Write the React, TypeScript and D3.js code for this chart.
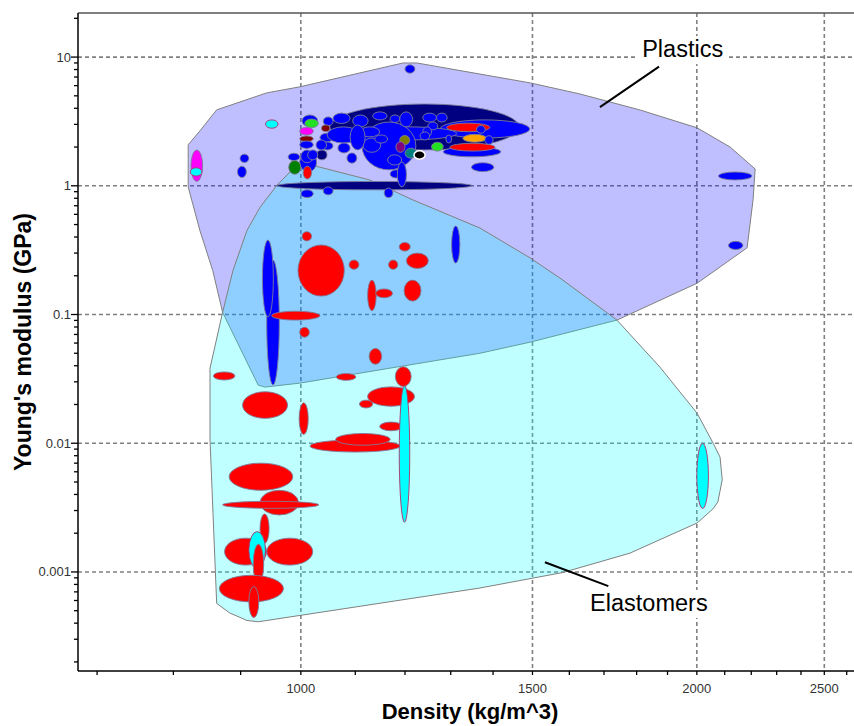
import React, { useEffect, useRef } from "react";
import * as d3 from "d3";

// axis ticks
const xTickValues = [1000, 1500, 2000, 2500];
const xTickLabels = ["1000", "1500", "2000", "2500"];
const yTickValues = [0.001, 0.01, 0.1, 1, 10];
const yTickLabels = ["0.001", "0.01", "0.1", "1", "10"];

// family envelopes: [density kg/m^3, modulus GPa]
const plasticsEnvelope: [number, number][] = [
  [821, 2.08], [838, 2.67], [863, 3.89], [942, 5.27], [998, 5.87], [1196, 9.0], [1225, 9.0],
  [1494, 6.3], [1630, 5.17], [1811, 3.88], [2001, 2.82], [2120, 2.0], [2215, 1.35], [2207, 0.78],
  [2184, 0.33], [2083, 0.234], [2001, 0.175], [1739, 0.0905], [1494, 0.061], [1368, 0.05],
  [998, 0.0293], [939, 0.0273], [928, 0.0283], [872, 0.104], [857, 0.22], [838, 0.45], [821, 0.98],
];
const elastomersEnvelope: [number, number][] = [
  [998, 1.53], [1128, 1.11], [1217, 0.776], [1368, 0.47], [1494, 0.275], [1582, 0.185],
  [1739, 0.0905], [1875, 0.039], [2001, 0.0171], [2058, 0.01], [2083, 0.0078], [2091, 0.0052],
  [2075, 0.0035], [2058, 0.0031], [2001, 0.0024], [1779, 0.0014], [1582, 0.00099], [1368, 0.00075],
  [928, 0.00041], [910, 0.00042], [883, 0.00048], [863, 0.00057], [853, 0.0106], [853, 0.0383],
  [872, 0.104], [888, 0.22], [910, 0.45], [931, 0.68], [959, 1.01],
];

// material bubbles: [density lo, density hi, modulus lo, modulus hi, colour]
const plasticBubbles: [number, number, number, number, string][] = [
  [825, 842, 1.08, 1.9, "magenta"],
  [824, 841, 1.19, 1.38, "cyan"],
  [899, 913, 1.52, 1.76, "blue"],
  [895, 909, 1.16, 1.42, "blue"],
  [940, 961, 2.8, 3.25, "cyan"],
  [1200, 1221, 7.5, 8.7, "blue"],
  [2077, 2203, 1.11, 1.28, "blue"],
  [2114, 2168, 0.32, 0.37, "blue"],
  [959, 1349, 0.93, 1.08, "navy"],
  [1000, 1022, 0.81, 0.93, "blue"],
  [1040, 1058, 0.85, 0.98, "blue"],
  [1157, 1175, 0.81, 0.96, "blue"],
  [1052, 1465, 1.9, 4.32, "navy"],
  [1276, 1493, 2.35, 3.25, "blue"],
  [1283, 1419, 1.68, 2.01, "blue"],
  [1105, 1314, 2.27, 2.87, "blue"],
  [1169, 1189, 2.27, 3.09, "yellow"],
  [1113, 1223, 1.33, 3.13, "blue"],
  [1058, 1090, 3.05, 3.67, "blue"],
  [1095, 1125, 2.87, 3.55, "blue"],
  [1134, 1163, 3.25, 3.75, "blue"],
  [1169, 1189, 3.1, 3.55, "blue"],
  [1189, 1216, 2.87, 3.75, "blue"],
  [1238, 1268, 3.13, 3.67, "blue"],
  [1268, 1292, 3.13, 3.67, "blue"],
  [1249, 1271, 2.72, 3.13, "blue"],
  [1238, 1257, 2.4, 2.87, "blue"],
  [1232, 1253, 2.27, 2.62, "blue"],
  [1289, 1302, 2.15, 2.48, "blue"],
  [1109, 1148, 2.4, 2.87, "blue"],
  [1115, 1150, 1.82, 2.35, "blue"],
  [1034, 1058, 2.19, 2.56, "blue"],
  [1047, 1109, 2.15, 2.87, "blue"],
  [1090, 1119, 1.9, 2.97, "blue"],
  [1067, 1090, 1.8, 2.15, "blue"],
  [1084, 1103, 1.5, 1.8, "blue"],
  [1028, 1047, 1.59, 1.9, "navy"],
  [1037, 1058, 1.9, 2.19, "blue"],
  [998, 1028, 1.28, 1.83, "blue"],
  [1138, 1164, 2.15, 2.48, "blue"],
  [1164, 1193, 1.45, 1.74, "blue"],
  [1169, 1195, 1.15, 1.33, "blue"],
  [1184, 1203, 0.98, 1.53, "blue"],
  [1040, 1058, 2.93, 3.43, "blue"],
  [1000, 1022, 1.51, 1.9, "blue"],
  [1012, 1030, 1.59, 1.9, "blue"],
  [1027, 1046, 1.9, 2.27, "blue"],
  [978, 998, 1.57, 1.79, "blue"],
  [979, 1000, 1.23, 1.57, "darkgreen"],
  [1004, 1019, 1.13, 1.42, "red"],
  [1002, 1030, 2.87, 3.55, "blue"],
  [1007, 1031, 2.83, 3.3, "lime"],
  [998, 1022, 2.48, 2.85, "magenta"],
  [998, 1022, 2.2, 2.44, "maroon"],
  [998, 1022, 1.95, 2.23, "blue"],
  [1037, 1052, 2.64, 2.97, "maroon"],
  [1291, 1392, 2.63, 3.07, "red"],
  [1298, 1405, 1.86, 2.14, "red"],
  [1328, 1384, 2.18, 2.51, "orange"],
  [1360, 1381, 2.56, 2.94, "blue"],
  [1380, 1400, 2.1, 2.45, "blue"],
  [1348, 1402, 1.29, 1.51, "blue"],
  [1257, 1283, 1.86, 2.18, "lime"],
  [1189, 1210, 2.08, 2.46, "olive"],
  [1181, 1200, 1.82, 2.2, "purple"],
  [1200, 1225, 1.64, 1.96, "teal"],
  [1219, 1243, 1.61, 1.87, "black"],
];

const elastomerBubbles: [number, number, number, number, string][] = [
  [942, 963, 0.0283, 0.265, "blue"],
  [935, 953, 0.0958, 0.379, "blue"],
  [995, 1079, 0.139, 0.347, "red"],
  [1002, 1019, 0.373, 0.44, "red"],
  [950, 1034, 0.0905, 0.106, "red"],
  [998, 1015, 0.0666, 0.0795, "red"],
  [1088, 1107, 0.2245, 0.265, "red"],
  [1124, 1141, 0.107, 0.185, "red"],
  [1140, 1174, 0.135, 0.158, "red"],
  [1166, 1185, 0.2245, 0.265, "red"],
  [1188, 1211, 0.311, 0.363, "red"],
  [1203, 1250, 0.228, 0.3, "red"],
  [1198, 1234, 0.127, 0.185, "red"],
  [1302, 1321, 0.251, 0.487, "blue"],
  [1127, 1152, 0.0411, 0.0545, "red"],
  [858, 891, 0.031, 0.0358, "red"],
  [1064, 1101, 0.0308, 0.0348, "red"],
  [1124, 1220, 0.0194, 0.0274, "red"],
  [1108, 1134, 0.0188, 0.0216, "red"],
  [1148, 1195, 0.0125, 0.0146, "red"],
  [997, 1013, 0.0117, 0.0206, "red"],
  [903, 977, 0.0156, 0.0251, "red"],
  [1016, 1190, 0.00854, 0.0106, "red"],
  [1063, 1169, 0.00965, 0.0119, "red"],
  [1188, 1210, 0.00243, 0.0283, "cyan"],
  [1180, 1213, 0.0276, 0.0393, "red"],
  [882, 986, 0.00431, 0.007, "red"],
  [931, 996, 0.00277, 0.00431, "red"],
  [872, 1032, 0.00312, 0.00354, "red"],
  [931, 946, 0.00167, 0.00282, "red"],
  [875, 942, 0.00113, 0.00183, "red"],
  [942, 1021, 0.00113, 0.00183, "red"],
  [913, 940, 0.00106, 0.00206, "cyan"],
  [920, 937, 0.00081, 0.00164, "red"],
  [867, 970, 0.000585, 0.000942, "red"],
  [913, 929, 0.000443, 0.000771, "red"],
  [2000, 2041, 0.00311, 0.00999, "cyan"],
];

// family labels: [text, label density, label modulus (baseline), leader from, leader to]
const familyLabels: [string, number, number, [number, number], [number, number]][] = [
  ["Plastics", 1951, 10, [1872, 8.44], [1688, 4.08]],
  ["Elastomers", 1839, 0.000497, [1713, 0.000776], [1533, 0.00119]],
];

const palette: Record<string, string> = {
  blue: "#0000ff",
  navy: "#000080",
  red: "#ff0000",
  cyan: "#00ffff",
  magenta: "#ff00ff",
  lime: "#22e022",
  darkgreen: "#008000",
  maroon: "#800000",
  yellow: "#ffff00",
  olive: "#808000",
  orange: "#ffa500",
  teal: "#008080",
  purple: "#800080",
  black: "#000000",
};

const W = 854;
const H = 726;
const FONT = "'Liberation Sans', Arial, sans-serif";

export default function App() {
  const ref = useRef<SVGSVGElement>(null);

  useEffect(() => {
    const svg = d3.select(ref.current);
    svg.selectAll("*").remove();

    const left = 78, right = 880, top = 13, bottom = 671;
    const x = d3.scaleLog().domain([677, 2756]).range([left, right]);
    const y = d3.scaleLog().domain([1.7e-4, 22]).range([bottom, top]);

    svg.append("rect").attr("width", W).attr("height", H).attr("fill", "#fff");

    // grid
    const grid = svg.append("g").attr("stroke", "#808080").attr("stroke-width", 1.6).attr("stroke-dasharray", "4,3");
    grid.selectAll("line.v").data(xTickValues).enter().append("line")
      .attr("x1", (d) => x(d)).attr("x2", (d) => x(d)).attr("y1", top).attr("y2", bottom);
    grid.selectAll("line.h").data(yTickValues).enter().append("line")
      .attr("x1", left).attr("x2", right).attr("y1", (d) => y(d)).attr("y2", (d) => y(d));

    // envelopes
    const env = d3.line<[number, number]>()
      .x((d) => x(d[0]))
      .y((d) => y(d[1]))
      .curve(d3.curveLinearClosed);
    svg.append("path").attr("d", env(plasticsEnvelope))
      .attr("fill", "#0000ff").attr("fill-opacity", 0.25).attr("stroke", "#808080").attr("stroke-width", 1)
      .attr("stroke-linejoin", "round");
    svg.append("path").attr("d", env(elastomersEnvelope))
      .attr("fill", "#00ffff").attr("fill-opacity", 0.25).attr("stroke", "#808080").attr("stroke-width", 1)
      .attr("stroke-linejoin", "round");

    // bubbles
    const drawBubbles = (data: [number, number, number, number, string][]) => {
      svg.append("g").selectAll("ellipse").data(data).enter().append("ellipse")
        .attr("cx", (d) => (x(d[0]) + x(d[1])) / 2)
        .attr("cy", (d) => (y(d[2]) + y(d[3])) / 2)
        .attr("rx", (d) => (x(d[1]) - x(d[0])) / 2)
        .attr("ry", (d) => (y(d[2]) - y(d[3])) / 2)
        .attr("fill", (d) => palette[d[4]])
        .attr("stroke", (d) => (d[4] === "black" ? "#ffffff" : d[4] === "cyan" ? "#b0306a" : "#7c7c98"))
        .attr("stroke-width", (d) => (d[4] === "black" ? 1.5 : 0.9));
    };
    drawBubbles(elastomerBubbles);
    drawBubbles(plasticBubbles);

    // family labels
    familyLabels.forEach(([name, lx, ly, from, to]) => {
      const g = svg.append("g");
      g.append("line")
        .attr("x1", x(from[0])).attr("y1", y(from[1]))
        .attr("x2", x(to[0])).attr("y2", y(to[1]))
        .attr("stroke", "#000").attr("stroke-width", 2);
      const box = g.append("rect").attr("fill", "#fff");
      const t = g.append("text")
        .attr("x", x(lx)).attr("y", y(ly))
        .attr("text-anchor", "middle")
        .attr("font-family", FONT).attr("font-size", 23.5).attr("fill", "#000")
        .text(name);
      const bb = (t.node() as SVGTextElement).getBBox();
      box.attr("x", bb.x - 6).attr("y", bb.y).attr("width", bb.width + 11).attr("height", bb.height + 2);
    });

    // axes
    const minorY = y.ticks().filter((v) => !yTickValues.some((m) => Math.abs(m - v) / m < 1e-6));
    const ax = svg.append("g").attr("stroke", "#000").attr("stroke-width", 1.3);
    ax.selectAll("line.ym").data(minorY).enter().append("line")
      .attr("x1", left - 4).attr("x2", left).attr("y1", (d) => y(d)).attr("y2", (d) => y(d));
    ax.selectAll("line.yM").data(yTickValues).enter().append("line")
      .attr("x1", left - 7).attr("x2", left).attr("y1", (d) => y(d)).attr("y2", (d) => y(d));
    ax.selectAll("line.x").data(d3.range(700, 2800, 100)).enter().append("line")
      .attr("x1", (d) => x(d)).attr("x2", (d) => x(d)).attr("y1", bottom).attr("y2", bottom + 4);
    svg.append("line").attr("x1", left).attr("x2", right).attr("y1", top).attr("y2", top)
      .attr("stroke", "#555").attr("stroke-width", 1.5);
    svg.append("line").attr("x1", left).attr("x2", left).attr("y1", top).attr("y2", bottom)
      .attr("stroke", "#000").attr("stroke-width", 1.5);
    svg.append("line").attr("x1", left).attr("x2", right).attr("y1", bottom).attr("y2", bottom)
      .attr("stroke", "#000").attr("stroke-width", 1.5);

    svg.append("g").selectAll("text").data(yTickValues).enter().append("text")
      .attr("x", left - 7).attr("y", (d) => y(d)).attr("dy", "0.35em")
      .attr("text-anchor", "end").attr("font-family", FONT).attr("font-size", 13).attr("fill", "#333")
      .text((d, i) => yTickLabels[i]);
    svg.append("g").selectAll("text").data(xTickValues).enter().append("text")
      .attr("x", (d) => x(d)).attr("y", 693)
      .attr("text-anchor", "middle").attr("font-family", FONT).attr("font-size", 13).attr("fill", "#333")
      .text((d, i) => xTickLabels[i]);

    svg.append("text")
      .attr("x", 470).attr("y", 719)
      .attr("text-anchor", "middle").attr("font-family", FONT).attr("font-size", 22).attr("font-weight", "bold")
      .text("Density (kg/m^3)");
    svg.append("text")
      .attr("transform", `translate(31,${(top + bottom) / 2}) rotate(-90)`)
      .attr("text-anchor", "middle").attr("font-family", FONT).attr("font-size", 23).attr("font-weight", "bold")
      .text("Young's modulus (GPa)");
  }, []);

  return (
    <svg ref={ref} width={W} height={H} style={{ position: "absolute", left: 0, top: 0 }} />
  );
}
